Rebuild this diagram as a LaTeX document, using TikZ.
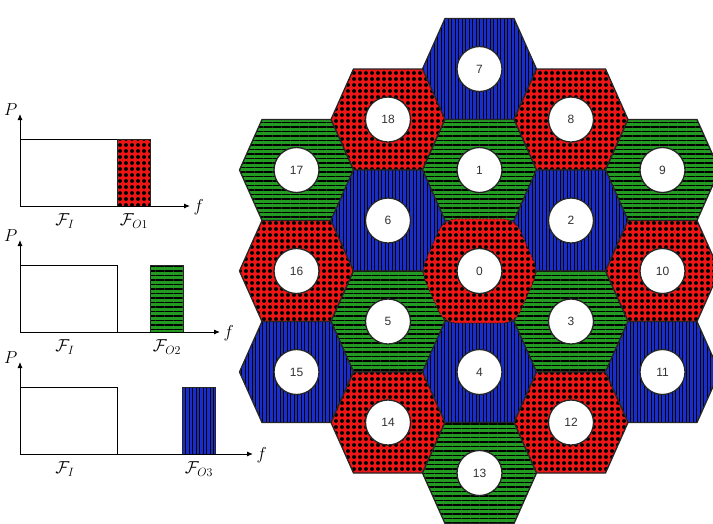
\documentclass[tikz,border=0pt]{standalone}
\usepackage{amsmath,amssymb}
\usepackage{fontspec}
\setsansfont{Liberation Sans}
\usetikzlibrary{arrows.meta,patterns.meta}
\definecolor{cellred}{RGB}{240,20,20}
\definecolor{cellgreen}{RGB}{35,155,35}
\definecolor{cellblue}{RGB}{25,45,205}

\begin{document}
\begin{tikzpicture}[x=1pt,y=-1pt,>=Latex,
  redcell/.style={preaction={fill=cellred},pattern={Dots[radius=2pt,distance=6pt]},pattern color=black},
  greencell/.style={preaction={fill=cellgreen},pattern={Lines[angle=0,distance=4.5pt,line width=1.2pt]},pattern color=black},
  bluecell/.style={preaction={fill=cellblue},pattern={Lines[angle=90,distance=3.5pt,line width=0.9pt]},pattern color=black},
  cellrim/.style={draw=black!85,line width=1.3pt},
  cellnum/.style={circle,draw=black!85,line width=1.3pt,fill=white,minimum size=45pt,inner sep=0pt,
    font=\sffamily\fontsize{12}{14}\selectfont,text=black!80},
  axis/.style={line width=0.9pt,-{Latex[length=6pt,width=5pt]}},
  spec/.style={font=\fontsize{17}{20}\selectfont}]
  \useasboundingbox (0,0) rectangle (713,523);
  \clip (0,0) rectangle (713,523);

  % spectrum plots: base, block start, axis end, pattern, label
  \foreach \k/\b/\s/\e/\c/\o in {1/206/117/190/redcell/O1,2/332/150/220/greencell/O2,3/454/182/253/bluecell/O3}{
    \draw[line width=0.9pt] (20,\b) rectangle (117,\b-67);
    \draw[\c,cellrim,line width=0.9pt] (\s,\b) rectangle (\s+33,\b-67);
    \draw[axis] (20,\b) -- (20,\b-92) coordinate (ptip\k);
    \draw[axis] (20,\b) -- (\e,\b) coordinate (ftip\k);
    \node[spec,anchor=east] (p\k) at ([xshift=1pt,yshift=4pt]ptip\k) {$P$};
    \node[spec,anchor=west] (f\k) at ([yshift=-1pt]ftip\k) {$f$};
    \node[spec] (fi\k) at (65,\b+15) {$\mathcal{F}_I$};
    \node[spec] (fo\k) at (\s+17,\b+15) {$\mathcal{F}_{\o}$};
  }

  \def\cells{7/479.5/69/bluecell,18/388/119.5/redcell,8/571/119.5/redcell,
    17/296.5/170/greencell,1/479.5/170/greencell,9/662.5/170/greencell,
    6/388/220.5/bluecell,2/571/220.5/bluecell,16/296.5/271/redcell,
    10/662.5/271/redcell,5/388/321.5/greencell,3/571/321.5/greencell,
    15/296.5/372/bluecell,4/479.5/372/bluecell,11/662.5/372/bluecell,
    14/388/422.5/redcell,12/571/422.5/redcell,13/479.5/473/greencell}

  % neighbours of cell 0 reach into its corners
  \foreach \n/\x/\y/\c in {1/479.5/170/greencell,2/571/220.5/bluecell,3/571/321.5/greencell,
    4/479.5/372/bluecell,5/388/321.5/greencell,6/388/220.5/bluecell}{
    \path[\c,shift={(\x,\y)},scale=1.2]
      (-57,0) -- (-34.5,-50.5) -- (34.5,-50.5) -- (57,0) -- (34.5,50.5) -- (-34.5,50.5) -- cycle;
  }
  \foreach \n/\x/\y/\c in \cells{
    \draw[\c,cellrim,shift={(\x,\y)}]
      (-57,0) -- (-34.5,-50.5) -- (34.5,-50.5) -- (57,0) -- (34.5,50.5) -- (-34.5,50.5) -- cycle;
  }
  \draw[redcell,draw=black!85,line width=0.8pt,dash pattern=on 2pt off 1.5pt,rounded corners=12pt,
    shift={(479.5,271)},scale=1.03]
    (-57,0) -- (-34.5,-50.5) -- (34.5,-50.5) -- (57,0) -- (34.5,50.5) -- (-34.5,50.5) -- cycle;

  \node[cellnum] (c0) at (479.5,271) {0};
  \foreach \n/\x/\y/\c in \cells{
    \node[cellnum] (c\n) at (\x,\y) {\n};
  }
\end{tikzpicture}
\end{document}
